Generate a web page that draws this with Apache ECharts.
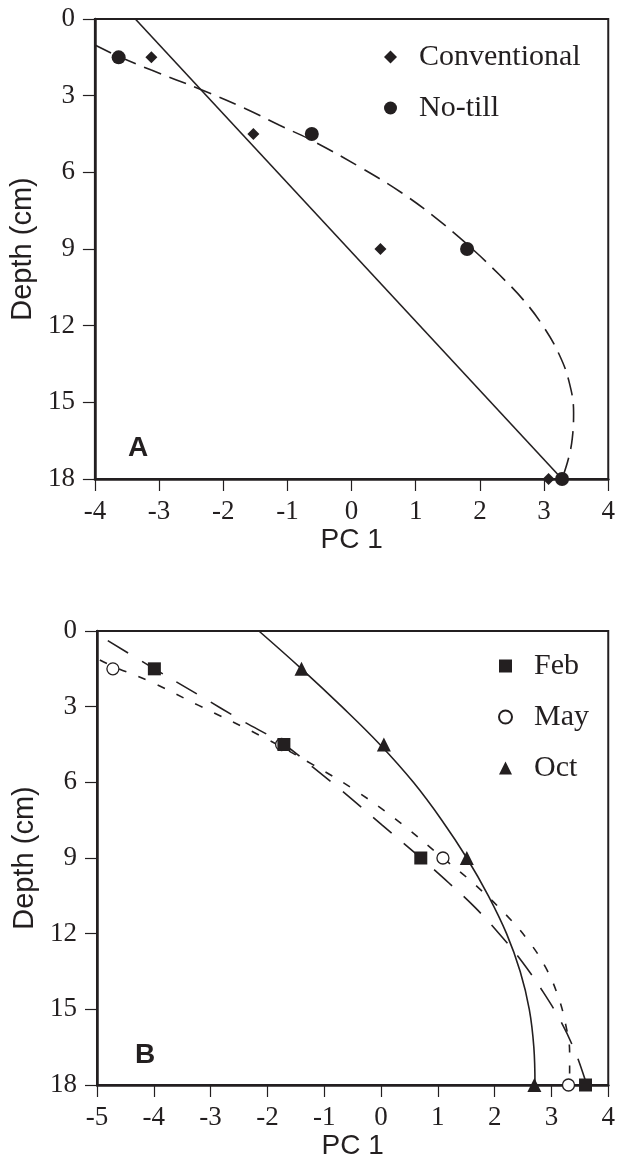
<!DOCTYPE html>
<html>
<head>
<meta charset="utf-8">
<script src="https://cdn.jsdelivr.net/npm/echarts@6/dist/echarts.min.js"></script>
<style>
html,body{margin:0;padding:0;background:#fff;}
#chart{width:618px;height:1166px;}
</style>
</head>
<body>
<div id="chart"></div>
<script>
// panel A - tillage
var depthA = [1.5, 4.5, 9, 18];
var convX = [-3.12, -1.53, 0.45, 3.07];
var noTillX = [-3.63, -0.62, 1.8, 3.28];
// fitted lines
var convFitX = [-3.37, 3.28];
var convFitDepth = [0, 18];
var noTillFitX = [-4.0, -3.6, -3.12, -2.36, -1.66, -1.13, -0.62, 0.12, 0.78, 1.37, 1.9, 2.3, 2.68, 2.98, 3.23, 3.39, 3.46, 3.44, 3.38, 3.28];
var noTillFitDepth = [1.02, 1.5, 2.0, 2.75, 3.5, 4.15, 4.75, 5.78, 6.8, 7.9, 9.04, 10.0, 11.0, 12.0, 13.1, 14.2, 15.4, 16.4, 17.2, 18];

// panel B - sampling month
var depthB = [1.5, 4.5, 9, 18];
var febX = [-3.99, -1.71, 0.7, 3.6];
var mayX = [-4.72, -1.75, 1.09, 3.3];
var octX = [-1.4, 0.05, 1.51, 2.7];
var febFitX = [-4.81, -3.99, -3.2, -2.45, -1.71, -1.2, -0.68, 0.02, 0.7, 1.2, 1.65, 2.08, 2.48, 2.85, 3.17, 3.42, 3.58, 3.62];
var febFitDepth = [0.38, 1.5, 2.55, 3.55, 4.5, 5.4, 6.35, 7.7, 9, 10, 10.95, 12, 13.1, 14.3, 15.5, 16.7, 17.7, 18];
var mayFitX = [-4.95, -4.7, -4.05, -3.22, -2.04, -1.2, -0.5, 0.25, 1.09, 1.65, 2.2, 2.6, 2.9, 3.12, 3.25, 3.32, 3.32, 3.3];
var mayFitDepth = [1.15, 1.42, 2.02, 2.94, 4.25, 5.3, 6.25, 7.45, 9.0, 10.05, 11.25, 12.3, 13.35, 14.5, 15.6, 16.7, 17.5, 18];
var octFitX = [-2.15, -1.4, -0.69, -0.02, 0.57, 1.07, 1.51, 1.89, 2.21, 2.45, 2.61, 2.69, 2.71];
var octFitDepth = [0, 1.5, 3, 4.5, 6, 7.5, 9, 10.5, 12, 13.5, 15, 16.5, 18];

var ink = '#231f20';
var serif = 'Liberation Serif';
var sans = 'Liberation Sans';

function pairs(xs, ys){
    return xs.map(function(x, i){ return [x, ys[i]]; });
}

function xAxisOf(idx, min, max){
    return {
        gridIndex: idx, type: 'value', min: min, max: max, interval: 1,
        name: 'PC 1', nameLocation: 'middle', nameGap: 47,
        nameTextStyle: {fontFamily: sans, fontSize: 28, color: ink},
        axisLine: {onZero: false, lineStyle: {color: ink, width: 2.5}},
        axisTick: {length: 12, lineStyle: {color: ink, width: 1.2}},
        axisLabel: {fontFamily: serif, fontSize: 27, color: ink, margin: 19},
        splitLine: {show: false}
    };
}
function yAxisOf(idx, gap){
    return {
        gridIndex: idx, type: 'value', inverse: true, min: 0, max: 18, interval: 3,
        name: 'Depth (cm)', nameLocation: 'middle', nameGap: gap,
        nameTextStyle: {fontFamily: sans, fontSize: 29, color: ink},
        axisLine: {onZero: false, lineStyle: {color: ink, width: 2.5}},
        axisTick: {length: 12, lineStyle: {color: ink, width: 1.2}},
        axisLabel: {fontFamily: serif, fontSize: 27, color: ink, margin: 20},
        splitLine: {show: false}
    };
}
function fitLine(name, idx, xs, ys, dash){
    return {
        name: name, type: 'line', xAxisIndex: idx, yAxisIndex: idx,
        data: pairs(xs, ys), showSymbol: false, smooth: 0.4, silent: true,
        lineStyle: {color: ink, width: 1.6, type: dash}, z: 2
    };
}
function dots(name, idx, xs, ys, symbol, size, fill){
    return {
        name: name, type: 'scatter', xAxisIndex: idx, yAxisIndex: idx,
        data: pairs(xs, ys), symbol: symbol, symbolSize: size,
        itemStyle: {color: fill || ink, borderColor: ink, borderWidth: fill ? 1.3 : 0, opacity: 1},
        z: 5
    };
}

var chart = echarts.init(document.getElementById('chart'));
var legendText = {fontFamily: serif, fontSize: 30, color: ink, padding: [0, 0, 0, 17]};

chart.setOption({
    animation: false,
    title: [
        {text: 'A', left: 123, top: 429, textStyle: {fontFamily: sans, fontWeight: 'bold', fontSize: 28, color: ink}},
        {text: 'B', left: 130, top: 1036, textStyle: {fontFamily: sans, fontWeight: 'bold', fontSize: 28, color: ink}}
    ],
    legend: [
        {data: ['Conventional', 'No-till'], orient: 'vertical', left: 379, top: 37,
         itemWidth: 13, itemHeight: 13, itemGap: 21, selectedMode: false,
         textStyle: legendText},
        {data: ['Feb', 'May', 'Oct'], orient: 'vertical', left: 493, top: 646,
         itemWidth: 13, itemHeight: 13, itemGap: 21, selectedMode: false,
         textStyle: legendText}
    ],
    grid: [
        {left: 90, top: 19, width: 520, height: 460, show: true, borderColor: ink, borderWidth: 2},
        {left: 97, top: 631, width: 518, height: 454, show: true, borderColor: ink, borderWidth: 2}
    ],
    xAxis: [xAxisOf(0, -4, 4), xAxisOf(1, -5, 4)],
    yAxis: [yAxisOf(0, 57), yAxisOf(1, 51)],
    series: [
        fitLine('Conventional fit', 0, convFitX, convFitDepth, 'solid'),
        fitLine('No-till fit', 0, noTillFitX, noTillFitDepth, [18, 9]),
        dots('Conventional', 0, convX, depthA, 'diamond', 12),
        dots('No-till', 0, noTillX, depthA, 'circle', 14),

        fitLine('Feb fit', 1, febFitX, febFitDepth, [24, 16]),
        fitLine('May fit', 1, mayFitX, mayFitDepth, [8, 13]),
        fitLine('Oct fit', 1, octFitX, octFitDepth, 'solid'),
        dots('May', 1, mayX, depthB, 'circle', 12, '#fff'),
        dots('Feb', 1, febX, depthB, 'rect', 13),
        dots('Oct', 1, octX, depthB, 'triangle', 14)
    ]
});
</script>
</body>
</html>
